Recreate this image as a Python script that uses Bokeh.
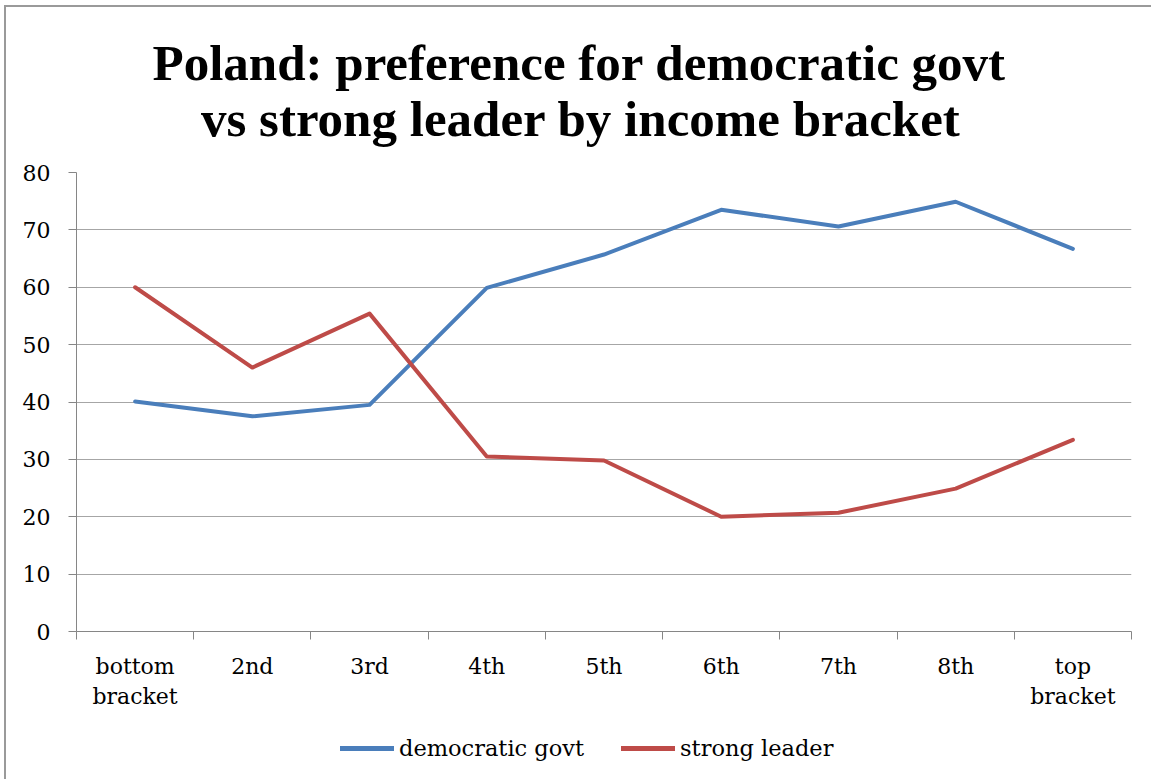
from bokeh.plotting import figure
from bokeh.layouts import column
from bokeh.models import Range1d, FixedTicker, Legend, LegendItem, Title
from bokeh.embed import file_html
from bokeh.resources import INLINE

categories = ["bottom\nbracket", "2nd", "3rd", "4th", "5th", "6th", "7th", "8th", "top\nbracket"]
democratic_govt = [40.1, 37.5, 39.5, 59.9, 65.7, 73.5, 70.6, 74.9, 66.7]
strong_leader = [60.0, 46.0, 55.4, 30.5, 29.8, 20.0, 20.7, 24.9, 33.4]
y_ticks = [0, 10, 20, 30, 40, 50, 60, 70, 80]
series_names = ["democratic govt", "strong leader"]
title_lines = ["Poland: preference for democratic govt", "vs strong leader by income bracket"]

xs = [i + 0.5 for i in range(len(categories))]
bounds = list(range(len(categories) + 1))

BLUE = "#4a7ebb"
RED = "#be4b48"
AXIS = "#868686"
FONT = "DejaVu Serif"

p = figure(width=1145, height=710, output_backend="svg", toolbar_location=None,
           x_range=Range1d(0, len(categories)), y_range=Range1d(0, 80),
           min_border_left=70, min_border_right=20, min_border_top=165,
           min_border_bottom=86, title=None)
p.outline_line_color = None

p.line(xs, democratic_govt, line_color=BLUE, line_width=4, line_join="round", line_cap="round")
p.line(xs, strong_leader, line_color=RED, line_width=4, line_join="round", line_cap="round")

indent = "\u00a0\u00a0\u00a0\u2009"
title = Title(text=title_lines[0] + "\n" + indent + title_lines[1], align="left",
              text_font="Liberation Serif", text_font_style="bold",
              text_font_size="51px", text_color="#000000",
              standoff=51, offset=76)
p.add_layout(title, "above")

p.xgrid.visible = False
p.ygrid.grid_line_color = "#a6a6a6"
p.ygrid.grid_line_width = 1

p.yaxis.ticker = FixedTicker(ticks=y_ticks)
p.yaxis.axis_line_color = AXIS
p.yaxis.major_tick_line_color = AXIS
p.yaxis.major_tick_out = 8
p.yaxis.major_tick_in = 0
p.yaxis.minor_tick_line_color = None
p.yaxis.major_label_text_font = FONT
p.yaxis.major_label_text_font_size = "22px"
p.yaxis.major_label_text_color = "#000000"
p.yaxis.major_label_standoff = 18

p.xaxis.ticker = FixedTicker(ticks=xs, minor_ticks=bounds)
p.xaxis.major_label_overrides = {x: c for x, c in zip(xs, categories)}
p.xaxis.axis_line_color = AXIS
p.xaxis.major_tick_line_color = None
p.xaxis.major_tick_out = 0
p.xaxis.major_tick_in = 0
p.xaxis.minor_tick_line_color = AXIS
p.xaxis.minor_tick_out = 8
p.xaxis.minor_tick_in = 0
p.xaxis.major_label_text_font = FONT
p.xaxis.major_label_text_font_size = "22px"
p.xaxis.major_label_text_color = "#000000"
p.xaxis.major_label_standoff = 14

# legend strip: same series drawn outside its visible range, only the legend shows
lg = figure(width=1145, height=62, output_backend="svg", toolbar_location=None,
            x_range=Range1d(-1000, -999), y_range=Range1d(-1000, -999),
            x_axis_location=None, y_axis_location=None,
            min_border=0, min_border_left=0, min_border_right=0,
            min_border_top=0, min_border_bottom=0)
lg.outline_line_color = None
lg.xgrid.visible = False
lg.ygrid.visible = False
l1 = lg.line(xs, democratic_govt, line_color=BLUE, line_width=5, line_cap="round")
l2 = lg.line(xs, strong_leader, line_color=RED, line_width=5, line_cap="round")
legend = Legend(items=[LegendItem(label=series_names[0], renderers=[l1]),
                       LegendItem(label=series_names[1], renderers=[l2])],
                orientation="horizontal", location=(264, 18),
                glyph_width=54, glyph_height=20, label_standoff=5, spacing=37,
                label_text_font=FONT, label_text_font_size="22.5px",
                label_text_color="#000000", padding=0, margin=0,
                border_line_color=None, background_fill_alpha=0)
lg.add_layout(legend, "center")

layout = column(p, lg, spacing=0,
                styles={"border-left": "2px solid #9a9a9a", "border-top": "2px solid #9a9a9a",
                        "margin-left": "4px", "margin-top": "5px"})

open("out.html", "w").write(file_html(layout, INLINE))
